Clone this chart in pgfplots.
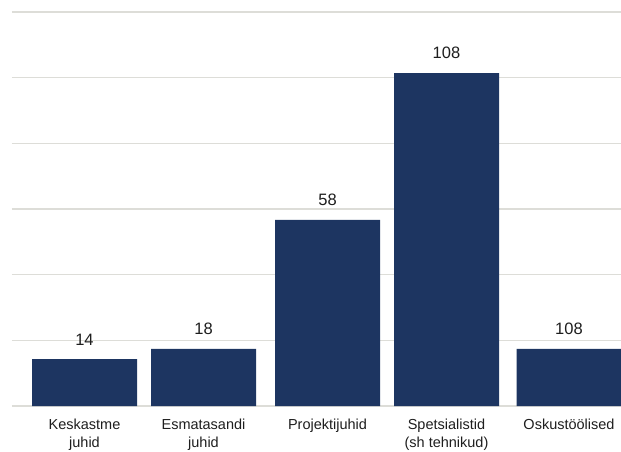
\documentclass[border=0pt]{standalone}
\usepackage{fontspec}
\setmainfont{Liberation Sans}
\usepackage{pgfplots}
\pgfplotsset{compat=1.18}
\definecolor{barblue}{HTML}{1D3561}
\definecolor{gridgray}{HTML}{DDDDD8}
\definecolor{txt}{HTML}{1E1E1E}
\begin{document}
\begin{tikzpicture}[x=1pt,y=1pt]
\useasboundingbox (0,0) rectangle (621,451);
\begin{axis}[
  at={(12pt,45pt)}, anchor=south west,
  scale only axis, width=609pt, height=394pt,
  xmin=12, xmax=621, ymin=0, ymax=120,
  ybar, bar width=105pt,
  ytick={0,20,...,120}, yticklabels={},
  ymajorgrids, grid style={gridgray, line width=1.5pt},
  axis line style={draw=none}, major tick length=0pt,
  xtick={84.5,203.5,327.5,446.5,569},
  xticklabels={Keskastme\\juhid, Esmatasandi\\juhid, Projektijuhid, Spetsialistid\\(sh tehnikud), Oskustöölised},
  xticklabel style={align=center, font=\fontsize{14.5}{18}\selectfont, text=txt, anchor=north, yshift=-9pt},
  nodes near coords, point meta=explicit symbolic,
  nodes near coords style={font=\fontsize{16.5}{20}\selectfont, text=txt, anchor=south, yshift=10.5pt},
]
\addplot[fill=barblue, draw=none] coordinates {(84.5,14.3)[14] (203.5,17.4)[18] (327.5,56.7)[58] (446.5,101.4)[108] (569,17.4)[108]};
\end{axis}
\end{tikzpicture}
\end{document}
